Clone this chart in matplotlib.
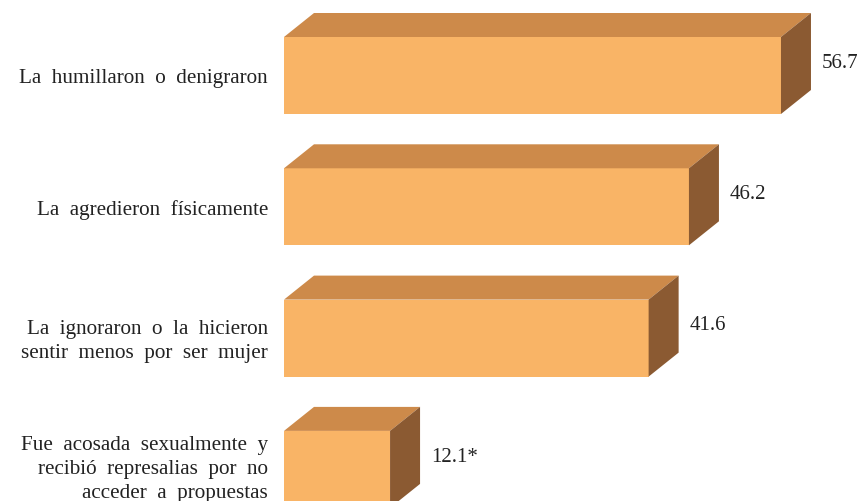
import matplotlib.pyplot as plt
from matplotlib.patches import Polygon

categories = [
    "La humillaron o denigraron",
    "La agredieron físicamente",
    "La ignoraron o la hicieron\nsentir menos por ser mujer",
    "Fue acosada sexualmente y\nrecibió represalias por no\nacceder a propuestas",
]
values = [56.7, 46.2, 41.6, 12.1]
value_labels = ["56.7", "46.2", "41.6", "12.1*"]

front_col = "#F9B466"
top_col = "#CD8A4A"
side_col = "#8B5A32"

plt.rcParams["font.family"] = ["Liberation Serif", "DejaVu Serif"]

fig = plt.figure(figsize=(8.63, 5.02), dpi=100)
ax = fig.add_axes([0, 0, 1, 1])

px_x = 8.765          # pixels per percentage point
px_row = 131.3        # pixels between bars
ax.set_xlim(-284 / px_x, (863 - 284) / px_x)
ax.set_ylim((502 - 76.5) / px_row, -76.5 / px_row)
ax.axis("off")

h = 77 / px_row       # bar thickness
dx = 30 / px_x        # depth offsets
dy = 24 / px_row

rows = list(range(len(values)))
ax.barh(rows, values, height=h, left=0, color=front_col, edgecolor="none", zorder=2)

for y, v in zip(rows, values):
    top = y - h / 2
    bot = y + h / 2
    ax.add_patch(Polygon([(0, top), (dx, top - dy), (v + dx, top - dy), (v, top)],
                         closed=True, facecolor=top_col, edgecolor="none", zorder=2))
    ax.add_patch(Polygon([(v, top), (v + dx, top - dy), (v + dx, bot - dy), (v, bot)],
                         closed=True, facecolor=side_col, edgecolor="none", zorder=2))

# wide word spacing in the category labels
for y, cat in zip(rows, categories):
    shift = 0.02 if cat.count("\n") > 1 else 0.0
    ax.text(-16 / px_x, y + 0.015 - shift, cat.replace(" ", "  "), ha="right",
            va="center", fontsize=15.2, linespacing=1.36, color="#222222")

for y, v, lab in zip(rows, values, value_labels):
    ax.text(v + dx + 11 / px_x, y - dy / 2 - 0.01, lab, ha="left", va="center",
            fontsize=15, color="#222222")

fig.savefig("out.png", dpi=100)
